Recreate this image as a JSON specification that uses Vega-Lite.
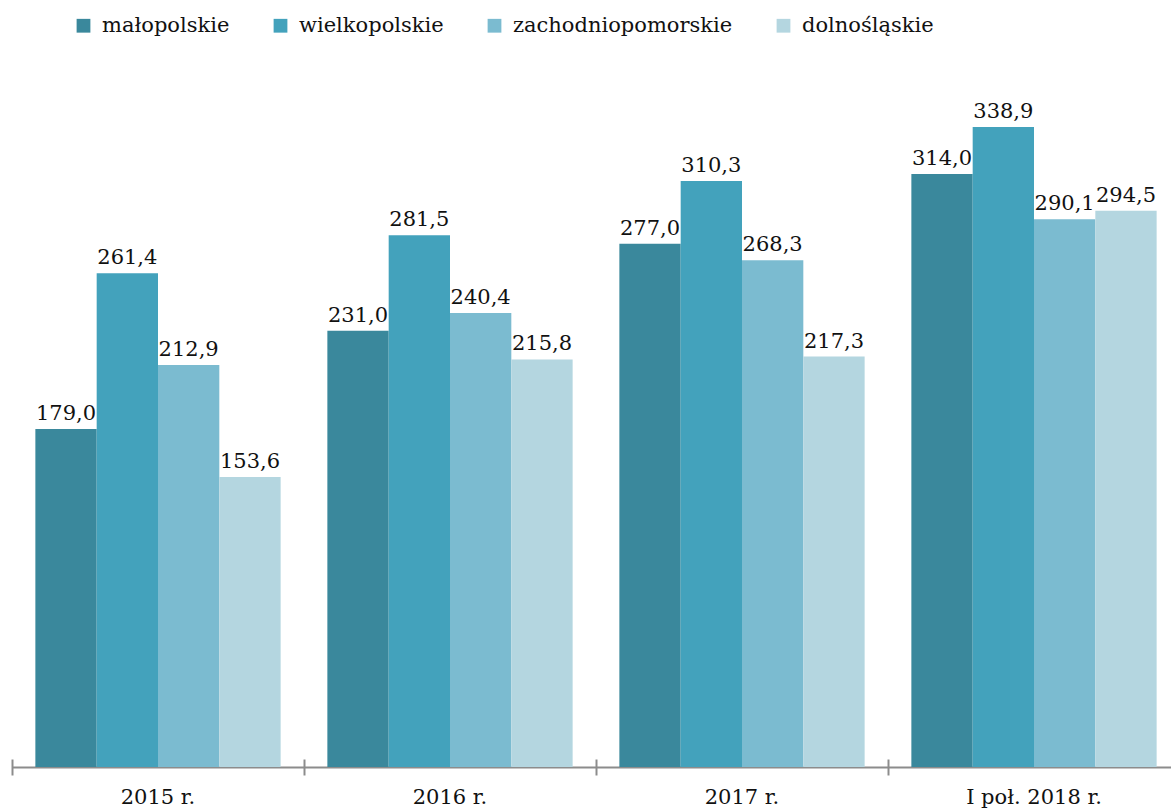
{
  "$schema": "https://vega.github.io/schema/vega-lite/v6.json",
  "width": 1168,
  "height": 661,
  "autosize": {"type": "none"},
  "padding": {"left": 12, "top": 106, "right": 0, "bottom": 44},
  "background": "white",
  "config": {
    "view": {"stroke": null},
    "font": "DejaVu Serif",
    "locale": {"number": {"decimal": ",", "thousands": " ", "grouping": [3], "currency": ["", ""]}}
  },
  "data": {
    "values": [
      {"okres": "2015 r.", "region": "małopolskie", "value": 179.0},
      {"okres": "2015 r.", "region": "wielkopolskie", "value": 261.4},
      {"okres": "2015 r.", "region": "zachodniopomorskie", "value": 212.9},
      {"okres": "2015 r.", "region": "dolnośląskie", "value": 153.6},
      {"okres": "2016 r.", "region": "małopolskie", "value": 231.0},
      {"okres": "2016 r.", "region": "wielkopolskie", "value": 281.5},
      {"okres": "2016 r.", "region": "zachodniopomorskie", "value": 240.4},
      {"okres": "2016 r.", "region": "dolnośląskie", "value": 215.8},
      {"okres": "2017 r.", "region": "małopolskie", "value": 277.0},
      {"okres": "2017 r.", "region": "wielkopolskie", "value": 310.3},
      {"okres": "2017 r.", "region": "zachodniopomorskie", "value": 268.3},
      {"okres": "2017 r.", "region": "dolnośląskie", "value": 217.3},
      {"okres": "I poł. 2018 r.", "region": "małopolskie", "value": 314.0},
      {"okres": "I poł. 2018 r.", "region": "wielkopolskie", "value": 338.9},
      {"okres": "I poł. 2018 r.", "region": "zachodniopomorskie", "value": 290.1},
      {"okres": "I poł. 2018 r.", "region": "dolnośląskie", "value": 294.5}
    ]
  },
  "encoding": {
    "x": {
      "field": "okres",
      "type": "nominal",
      "sort": ["2015 r.", "2016 r.", "2017 r.", "I poł. 2018 r."],
      "scale": {"paddingInner": 0.16, "paddingOuter": 0.08}
    },
    "xOffset": {
      "field": "region",
      "type": "nominal",
      "sort": ["małopolskie", "wielkopolskie", "zachodniopomorskie", "dolnośląskie"],
      "scale": {"paddingInner": 0, "paddingOuter": 0}
    },
    "y": {
      "field": "value",
      "type": "quantitative",
      "scale": {"domain": [0, 350]},
      "axis": null
    }
  },
  "layer": [
    {
      "mark": {"type": "bar"},
      "encoding": {
        "x": {
          "field": "okres",
          "type": "nominal",
          "sort": ["2015 r.", "2016 r.", "2017 r.", "I poł. 2018 r."],
          "axis": {
            "orient": "bottom",
            "title": null,
            "labelAngle": 0,
            "ticks": false,
            "domainColor": "#8c8c8c",
            "domainWidth": 2,
            "labelFontSize": 21,
            "labelColor": "#111111",
            "labelPadding": 19,
            "labelFont": "DejaVu Serif"
          }
        },
        "color": {
          "field": "region",
          "type": "nominal",
          "sort": ["małopolskie", "wielkopolskie", "zachodniopomorskie", "dolnośląskie"],
          "scale": {
            "domain": ["małopolskie", "wielkopolskie", "zachodniopomorskie", "dolnośląskie"],
            "range": ["#3A889C", "#43A2BC", "#7BBBD0", "#B4D6E0"]
          },
          "legend": {
            "orient": "none",
            "legendX": 61,
            "legendY": -91,
            "direction": "horizontal",
            "title": null,
            "symbolType": "square",
            "symbolSize": 190,
            "symbolStrokeWidth": 0,
            "labelFontSize": 21,
            "labelFont": "DejaVu Serif",
            "labelColor": "#111111",
            "labelOffset": 8,
            "labelLimit": 0,
            "columnPadding": 40,
            "padding": 0
          }
        }
      }
    },
    {
      "mark": {"type": "text", "baseline": "alphabetic", "dy": -9, "fontSize": 21, "color": "#111111", "font": "DejaVu Serif"},
      "encoding": {
        "x": {
          "field": "okres",
          "type": "nominal",
          "sort": ["2015 r.", "2016 r.", "2017 r.", "I poł. 2018 r."],
          "axis": {
            "orient": "bottom",
            "title": null,
            "domain": false,
            "labels": false,
            "tickColor": "#8c8c8c",
            "tickWidth": 2,
            "tickSize": 16,
            "tickOffset": -146,
            "offset": -8
          }
        },
        "text": {"field": "value", "type": "quantitative", "format": ".1f"}
      }
    }
  ],
  "resolve": {"axis": {"x": "independent"}}
}
